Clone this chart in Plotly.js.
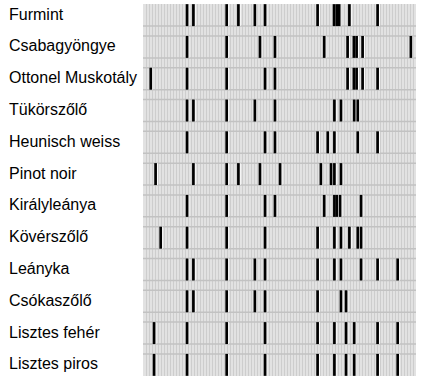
<!DOCTYPE html>
<html>
<head>
<meta charset="utf-8">
<script src="https://cdn.plot.ly/plotly-3.0.1.min.js"></script>
<style>html,body{margin:0;padding:0;background:#fff;}#chart{width:423px;height:388px;}</style>
</head>
<body>
<div id="chart"></div>
<script>
// Grape varieties (rows, top to bottom)
var varieties = ["Furmint", "Csabagyöngye", "Ottonel Muskotály", "Tükörszőlő", "Heunisch weiss",
  "Pinot noir", "Királyleánya", "Kövérszőlő", "Leányka", "Csókaszőlő", "Lisztes fehér", "Lisztes piros"];

// Band positions (x-axis units) for each variety
var furmint = [14.7, 16.8, 27.9, 31.8, 37.3, 40.7, 58.2, 63.7, 64.6, 65.4, 68.8, 78.2];
var csabagyongye = [14.7, 27.9, 39.0, 44.0, 60.4, 68.2, 70.3, 71.2, 73.2, 89.3];
var ottonel = [2.6, 14.7, 27.9, 40.7, 44.0, 68.2, 70.3, 71.2, 73.2, 78.2];
var tukorszolo = [14.7, 16.8, 27.9, 37.3, 44.0, 63.8, 66.0, 70.4, 71.6];
var heunisch = [14.7, 27.9, 40.7, 44.0, 58.2, 61.6, 63.8, 71.6, 78.2];
var pinotNoir = [4.2, 16.8, 27.9, 31.8, 39.0, 45.7, 59.3, 62.7, 63.8, 66.0];
var kiralyleanyka = [14.7, 27.9, 40.7, 44.0, 60.4, 63.8, 64.6, 65.7, 72.7];
var koverszolo = [5.9, 14.7, 27.9, 40.7, 58.2, 63.8, 66.0, 68.8, 71.6, 72.7];
var leanyka = [14.7, 16.8, 27.9, 37.3, 40.7, 58.2, 63.8, 66.0, 72.7, 78.2, 84.9];
var csokaszolo = [14.7, 16.8, 27.9, 37.3, 40.7, 58.2, 66.0, 67.7];
var lisztesFeher = [3.7, 14.7, 27.9, 40.7, 58.2, 63.8, 67.7, 70.4, 78.2, 84.9];
var lisztesPiros = [3.7, 14.7, 27.9, 40.7, 58.2, 63.8, 67.7, 70.4, 78.2, 84.9];

var bands = [furmint, csabagyongye, ottonel, tukorszolo, heunisch, pinotNoir,
  kiralyleanyka, koverszolo, leanyka, csokaszolo, lisztesFeher, lisztesPiros];

var X_MAX = 91;
var HALF = 0.345;

var traces = [];
// horizontal separator lines at band edges
var hx = [], hy = [];
for (var r = 0; r < varieties.length; r++) {
  if (r > 0) { hx.push(0, X_MAX, null); hy.push(r - HALF, r - HALF, null); }
  if (r < varieties.length - 1) { hx.push(0, X_MAX, null); hy.push(r + HALF, r + HALF, null); }
}
traces.push({type: "scatter", mode: "lines", x: hx, y: hy, line: {color: "#c2c2c2", width: 1.5},
  hoverinfo: "skip", showlegend: false});

// band marks
var bx = [], by = [], wx = [], wy = [];
bands.forEach(function (arr, r) {
  arr.forEach(function (v) {
    bx.push(v, v, null); by.push(r - HALF, r + HALF, null);
    wx.push(v + 0.55, v + 0.55, null); wy.push(r - HALF, r + HALF, null);
  });
});
traces.push({type: "scatter", mode: "lines", x: wx, y: wy, line: {color: "#ffffff", width: 1.2},
  hoverinfo: "skip", showlegend: false});
traces.push({type: "scatter", mode: "lines", x: bx, y: by, line: {color: "#000000", width: 2.7},
  hoverinfo: "skip", showlegend: false});

var annotations = varieties.map(function (name, r) {
  return {xref: "paper", yref: "y", x: 0, y: r, xshift: -136, yshift: 1, xanchor: "left", yanchor: "middle",
    text: name, showarrow: false, font: {family: "Liberation Sans, Arial, sans-serif", size: 16, color: "#000"}};
});

var layout = {
  width: 423, height: 388,
  margin: {l: 143, r: 7, t: 4, b: 12, pad: 0},
  paper_bgcolor: "#ffffff",
  plot_bgcolor: "#e2e2e2",
  showlegend: false,
  xaxis: {range: [0, X_MAX], dtick: 1, tick0: 0, showgrid: true, gridcolor: "#cdcdcd", gridwidth: 1,
    zeroline: false, showticklabels: false, ticks: "", showline: false, fixedrange: true},
  yaxis: {range: [11.35, -0.35], showgrid: false, zeroline: false, showticklabels: false, ticks: "",
    showline: false, fixedrange: true},
  annotations: annotations
};

Plotly.newPlot("chart", traces, layout, {staticPlot: true, displayModeBar: false});
</script>
</body>
</html>
